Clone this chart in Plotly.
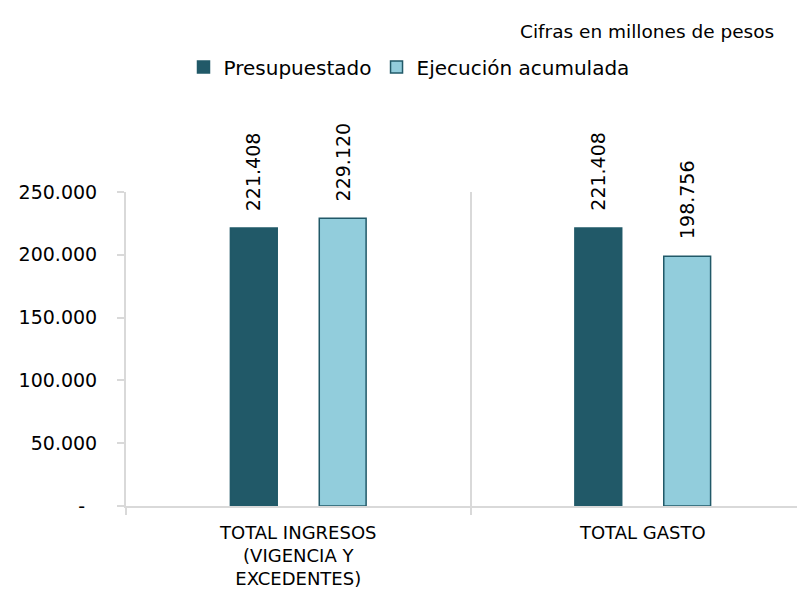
import plotly.graph_objects as go

categories = ["TOTAL INGRESOS<br>(VIGENCIA Y<br>EXCEDENTES)", "TOTAL GASTO"]
presupuestado = [221408, 221408]
ejecucion = [229120, 198756]
series_names = ["Presupuestado", "Ejecución acumulada"]
y_tickvals = [0, 50000, 100000, 150000, 200000, 250000]
y_ticktext = ["-\u00a0\u00a0", "50.000", "100.000", "150.000", "200.000", "250.000"]

DARK = "#215968"
LIGHT = "#92CDDC"
GRID = "#D9D9D9"
FONT = "DejaVu Sans"

BARGAP = 0.484
BARGROUPGAP = 0.473
slot = (1 - BARGAP) / 2
offsets = [-slot / 2, slot / 2]

def fmt(v):
    return f"{v:,}".replace(",", ".")

x_idx = list(range(len(categories)))

# page body has an 8px default margin: lay out in page pixels minus 8
OFF = 8
W, H = 805 - OFF, 590 - OFF
L, T, B = 126 - OFF, 192 - OFF, 84
PLOT_H = H - T - B
PLOT_W = W - L

def px_x(x):
    return (x - OFF - L) / PLOT_W

def px_y(y):
    return (T + PLOT_H - (y - OFF)) / PLOT_H

fig = go.Figure()
fig.add_trace(go.Bar(x=x_idx, y=presupuestado, name=series_names[0],
                     marker=dict(color=DARK, line=dict(color=DARK, width=1.5))))
fig.add_trace(go.Bar(x=x_idx, y=ejecucion, name=series_names[1],
                     marker=dict(color=LIGHT, line=dict(color=DARK, width=1.5))))

for series, off in zip([presupuestado, ejecucion], offsets):
    for i, v in enumerate(series):
        fig.add_annotation(x=i + off, y=v, xref="x", yref="y", text=fmt(v),
                           textangle=-90, showarrow=False, yanchor="bottom",
                           yshift=15, font=dict(family=FONT, size=19, color="black"))

fig.add_annotation(x=px_x(776), y=px_y(31), xref="paper", yref="paper", xanchor="right",
                   text="Cifras en millones de pesos", showarrow=False,
                   yanchor="middle",
                   font=dict(family=FONT, size=18.5, color="black"))

fig.update_layout(
    width=W, height=H,
    margin=dict(l=L, r=0, t=T, b=B, autoexpand=False),
    paper_bgcolor="white", plot_bgcolor="white",
    barmode="group", bargap=BARGAP, bargroupgap=BARGROUPGAP,
    font=dict(family=FONT, size=18, color="black"),
    showlegend=True,
    legend=dict(orientation="h", x=px_x(409), xanchor="center",
                y=px_y(67), yanchor="middle",
                font=dict(family=FONT, size=20, color="black"),
                traceorder="normal", itemwidth=30),
)

fig.update_xaxes(
    range=[-0.5, 1.471],
    tickvals=x_idx, ticktext=categories, ticks="",
    showline=True, linecolor=GRID, linewidth=2,
    showgrid=False, zeroline=False,
    ticklabelstandoff=9,
    tickfont=dict(family=FONT, size=18, color="black"),
    minor=dict(tickvals=[-0.5, 0.5], ticks="outside", ticklen=7, tickcolor=GRID,
               tickwidth=2, showgrid=True, gridcolor=GRID, gridwidth=2),
)
fig.update_yaxes(
    range=[0, 250000],
    tickvals=y_tickvals, ticktext=y_ticktext,
    showline=True, linecolor=GRID, linewidth=2,
    ticks="outside", ticklen=7, tickcolor=GRID, tickwidth=2,
    showgrid=False, zeroline=False,
    ticklabelstandoff=16,
    tickfont=dict(family=FONT, size=19, color="black"),
)

fig.write_html("out.html")
